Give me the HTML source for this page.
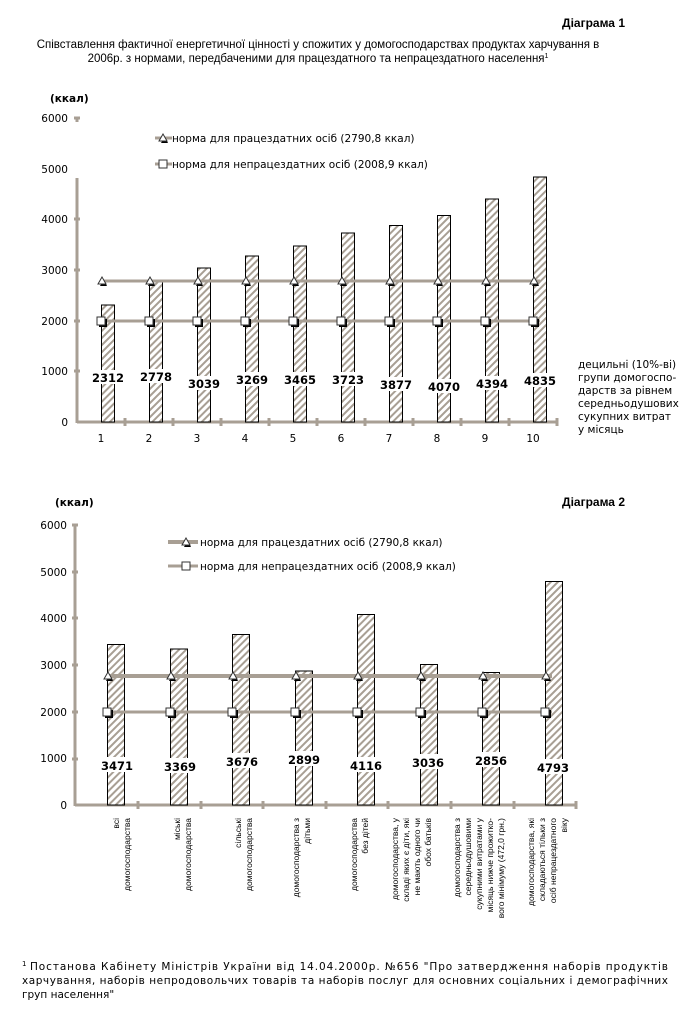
<!DOCTYPE html>
<html><head><meta charset="utf-8"><style>
html,body{margin:0;padding:0;background:#fff;}
svg{display:block;font-family:"DejaVu Sans","Liberation Sans",sans-serif;}
</style></head><body>
<svg width="689" height="1031" viewBox="0 0 689 1031" xmlns="http://www.w3.org/2000/svg">
<defs>
<pattern id="h" width="5" height="5" patternUnits="userSpaceOnUse" patternTransform="rotate(45)">
<rect width="5" height="5" fill="#fff"/><rect width="2" height="5" fill="#a89f94"/>
</pattern>
<g id="tri"><polygon points="2,2 9,2 5.5,-4" fill="#000"/><polygon points="0,0 8,0 4,-7" fill="#fff" stroke="#333" stroke-width="1"/></g>
<g id="sq"><rect x="-2" y="-2" width="8" height="8" fill="#000"/><rect x="-4" y="-4" width="8" height="8" fill="#fff" stroke="#333" stroke-width="1"/></g>
</defs>
<g font-family="Liberation Sans, sans-serif">
<text x="625" y="27" font-size="12" font-weight="bold" text-anchor="end">Діаграма 1</text>
<text x="318" y="48" font-size="11.5" text-anchor="middle">Співставлення фактичної енергетичної цінності у спожитих у домогосподарствах продуктах харчування в</text>
<text x="318" y="62" font-size="11.5" text-anchor="middle">2006р. з нормами, передбаченими для працездатного та непрацездатного населення<tspan font-size="7" dy="-4">1</tspan></text>
<text x="625" y="506" font-size="12" font-weight="bold" text-anchor="end">Діаграма 2</text>
</g>

<!-- CHART 1 -->
<g font-size="10.5">
<text x="50" y="102" font-weight="bold">(ккал)</text>
<text x="68" y="122" text-anchor="end">6000</text>
<text x="68" y="173" text-anchor="end">5000</text>
<text x="68" y="223" text-anchor="end">4000</text>
<text x="68" y="274" text-anchor="end">3000</text>
<text x="68" y="325" text-anchor="end">2000</text>
<text x="68" y="375" text-anchor="end">1000</text>
<text x="68" y="426" text-anchor="end">0</text>
</g>
<g stroke="#a89f94" stroke-width="3">
<line x1="77" y1="178" x2="77" y2="423"/>
<line x1="74" y1="118" x2="80" y2="118"/><line x1="77" y1="118" x2="77" y2="122"/>
<line x1="74" y1="219" x2="80" y2="219"/><line x1="74" y1="270" x2="80" y2="270"/><line x1="74" y1="321" x2="80" y2="321"/><line x1="74" y1="371" x2="80" y2="371"/>
<line x1="77" y1="422" x2="557" y2="422"/>
<line x1="125" y1="418" x2="125" y2="426"/><line x1="173" y1="418" x2="173" y2="426"/><line x1="221" y1="418" x2="221" y2="426"/><line x1="269" y1="418" x2="269" y2="426"/><line x1="317" y1="418" x2="317" y2="426"/><line x1="365" y1="418" x2="365" y2="426"/><line x1="413" y1="418" x2="413" y2="426"/><line x1="461" y1="418" x2="461" y2="426"/><line x1="509" y1="418" x2="509" y2="426"/><line x1="557" y1="418" x2="557" y2="426"/>
</g>
<g stroke="#000" stroke-width="1" fill="url(#h)">
<rect x="101.5" y="305" width="13" height="117"/>
<rect x="149.5" y="281" width="13" height="141"/>
<rect x="197.5" y="268" width="13" height="154"/>
<rect x="245.5" y="256" width="13" height="166"/>
<rect x="293.5" y="246" width="13" height="176"/>
<rect x="341.5" y="233" width="13" height="189"/>
<rect x="389.5" y="225.5" width="13" height="196.5"/>
<rect x="437.5" y="215.5" width="13" height="206.5"/>
<rect x="485.5" y="199" width="13" height="223"/>
<rect x="533.5" y="177" width="13" height="245"/>
</g>
<line x1="101" y1="281" x2="540" y2="281" stroke="#a89f94" stroke-width="3"/>
<line x1="101" y1="321" x2="540" y2="321" stroke="#a89f94" stroke-width="3"/>
<g>
<use href="#tri" x="98" y="284"/><use href="#tri" x="146" y="284"/><use href="#tri" x="194" y="284"/><use href="#tri" x="242" y="284"/><use href="#tri" x="290" y="284"/><use href="#tri" x="338" y="284"/><use href="#tri" x="386" y="284"/><use href="#tri" x="434" y="284"/><use href="#tri" x="482" y="284"/><use href="#tri" x="530" y="284"/>
<use href="#sq" x="101" y="321"/><use href="#sq" x="149" y="321"/><use href="#sq" x="197" y="321"/><use href="#sq" x="245" y="321"/><use href="#sq" x="293" y="321"/><use href="#sq" x="341" y="321"/><use href="#sq" x="389" y="321"/><use href="#sq" x="437" y="321"/><use href="#sq" x="485" y="321"/><use href="#sq" x="533" y="321"/>
</g>
<g font-size="11.5" font-weight="bold" text-anchor="middle">
<rect x="88" y="370" width="40" height="14" fill="#fff"/><text x="108" y="382">2312</text>
<rect x="136" y="369" width="40" height="14" fill="#fff"/><text x="156" y="381">2778</text>
<rect x="184" y="376" width="40" height="14" fill="#fff"/><text x="204" y="388">3039</text>
<rect x="232" y="372" width="40" height="14" fill="#fff"/><text x="252" y="384">3269</text>
<rect x="280" y="372" width="40" height="14" fill="#fff"/><text x="300" y="384">3465</text>
<rect x="328" y="372" width="40" height="14" fill="#fff"/><text x="348" y="384">3723</text>
<rect x="376" y="377" width="40" height="14" fill="#fff"/><text x="396" y="389">3877</text>
<rect x="424" y="379" width="40" height="14" fill="#fff"/><text x="444" y="391">4070</text>
<rect x="472" y="376" width="40" height="14" fill="#fff"/><text x="492" y="388">4394</text>
<rect x="520" y="373" width="40" height="14" fill="#fff"/><text x="540" y="385">4835</text>
</g>
<g font-size="10.5" text-anchor="middle">
<text x="101" y="442">1</text><text x="149" y="442">2</text><text x="197" y="442">3</text><text x="245" y="442">4</text><text x="293" y="442">5</text><text x="341" y="442">6</text><text x="389" y="442">7</text><text x="437" y="442">8</text><text x="485" y="442">9</text><text x="533" y="442">10</text>
</g>
<g font-size="10.5">
<text x="578" y="368">децильні (10%-ві)</text>
<text x="578" y="381">групи домогоспо-</text>
<text x="578" y="394">дарств за рівнем</text>
<text x="578" y="407">середньодушових</text>
<text x="578" y="420">сукупних витрат</text>
<text x="578" y="433">у місяць</text>
</g>
<line x1="155" y1="138" x2="172" y2="138" stroke="#a89f94" stroke-width="3"/>
<use href="#tri" x="159" y="141"/>
<text x="172" y="142" font-size="10.5">норма для працездатних осіб (2790,8 ккал)</text>
<line x1="155" y1="164" x2="172" y2="164" stroke="#a89f94" stroke-width="3"/>
<rect x="159" y="160" width="8" height="8" fill="#fff" stroke="#333"/>
<text x="172" y="168" font-size="10.5">норма для непрацездатних осіб (2008,9 ккал)</text>

<!-- CHART 2 -->
<g font-size="10.5">
<text x="55" y="506" font-weight="bold">(ккал)</text>
<text x="67" y="529" text-anchor="end">6000</text>
<text x="67" y="576" text-anchor="end">5000</text>
<text x="67" y="622" text-anchor="end">4000</text>
<text x="67" y="669" text-anchor="end">3000</text>
<text x="67" y="716" text-anchor="end">2000</text>
<text x="67" y="762" text-anchor="end">1000</text>
<text x="67" y="809" text-anchor="end">0</text>
</g>
<g stroke="#a89f94" stroke-width="3">
<line x1="75" y1="525" x2="75" y2="806"/>
<line x1="72" y1="525" x2="78" y2="525"/><line x1="72" y1="572" x2="78" y2="572"/><line x1="72" y1="618" x2="78" y2="618"/><line x1="72" y1="665" x2="78" y2="665"/><line x1="72" y1="712" x2="78" y2="712"/><line x1="72" y1="759" x2="78" y2="759"/>
<line x1="75" y1="805" x2="577" y2="805"/>
<line x1="138" y1="801" x2="138" y2="809"/><line x1="201" y1="801" x2="201" y2="809"/><line x1="263" y1="801" x2="263" y2="809"/><line x1="326" y1="801" x2="326" y2="809"/><line x1="388" y1="801" x2="388" y2="809"/><line x1="451" y1="801" x2="451" y2="809"/><line x1="514" y1="801" x2="514" y2="809"/><line x1="576" y1="801" x2="576" y2="809"/>
</g>
<g stroke="#000" stroke-width="1" fill="url(#h)">
<rect x="107.5" y="644.5" width="17" height="160.5"/>
<rect x="170.5" y="649" width="17" height="156"/>
<rect x="232.5" y="634.5" width="17" height="170.5"/>
<rect x="295.5" y="671" width="17" height="134"/>
<rect x="357.5" y="614.5" width="17" height="190.5"/>
<rect x="420.5" y="664.5" width="17" height="140.5"/>
<rect x="482.5" y="672.5" width="17" height="132.5"/>
<rect x="545.5" y="581.5" width="17" height="223.5"/>
</g>
<line x1="107" y1="676" x2="552" y2="676" stroke="#a89f94" stroke-width="4"/>
<line x1="107" y1="712" x2="552" y2="712" stroke="#a89f94" stroke-width="3"/>
<g>
<use href="#tri" x="104" y="679"/><use href="#tri" x="167" y="679"/><use href="#tri" x="229" y="679"/><use href="#tri" x="292" y="679"/><use href="#tri" x="354" y="679"/><use href="#tri" x="417" y="679"/><use href="#tri" x="479" y="679"/><use href="#tri" x="542" y="679"/>
<use href="#sq" x="107" y="712"/><use href="#sq" x="170" y="712"/><use href="#sq" x="232" y="712"/><use href="#sq" x="295" y="712"/><use href="#sq" x="357" y="712"/><use href="#sq" x="420" y="712"/><use href="#sq" x="482" y="712"/><use href="#sq" x="545" y="712"/>
</g>
<g font-size="11.5" font-weight="bold" text-anchor="middle">
<rect x="97" y="757" width="40" height="15" fill="#fff"/><text x="117" y="770">3471</text>
<rect x="160" y="758" width="40" height="15" fill="#fff"/><text x="180" y="771">3369</text>
<rect x="222" y="753" width="40" height="15" fill="#fff"/><text x="242" y="766">3676</text>
<rect x="284" y="751" width="40" height="15" fill="#fff"/><text x="304" y="764">2899</text>
<rect x="346" y="757" width="40" height="15" fill="#fff"/><text x="366" y="770">4116</text>
<rect x="408" y="754" width="40" height="15" fill="#fff"/><text x="428" y="767">3036</text>
<rect x="471" y="752" width="40" height="15" fill="#fff"/><text x="491" y="765">2856</text>
<rect x="533" y="759" width="40" height="15" fill="#fff"/><text x="553" y="772">4793</text>
</g>
<line x1="168" y1="542" x2="198" y2="542" stroke="#a89f94" stroke-width="4"/>
<use href="#tri" x="182" y="545"/>
<text x="200" y="546" font-size="10.5">норма для працездатних осіб (2790,8 ккал)</text>
<line x1="168" y1="566" x2="198" y2="566" stroke="#a89f94" stroke-width="3"/>
<rect x="182" y="562" width="8" height="8" fill="#fff" stroke="#333"/>
<text x="200" y="570" font-size="10.5">норма для непрацездатних осіб (2008,9 ккал)</text>

<g font-size="8.5" text-anchor="end" font-family="Liberation Sans, sans-serif">
<text transform="translate(119,818) rotate(-90)">всі</text>
<text transform="translate(130,818) rotate(-90)">домогосподарства</text>
<text transform="translate(180,818) rotate(-90)">міські</text>
<text transform="translate(191,818) rotate(-90)">домогосподарства</text>
<text transform="translate(241,818) rotate(-90)">сільські</text>
<text transform="translate(252,818) rotate(-90)">домогосподарства</text>
<text transform="translate(299,818) rotate(-90)">домогосподарства з</text>
<text transform="translate(310,818) rotate(-90)">дітьми</text>
<text transform="translate(357,818) rotate(-90)">домогосподарства</text>
<text transform="translate(368,818) rotate(-90)">без дітей</text>
<text transform="translate(398,818) rotate(-90)">домогосподарства, у</text>
<text transform="translate(409,818) rotate(-90)">складі яких є діти, які</text>
<text transform="translate(420,818) rotate(-90)">не мають одного чи</text>
<text transform="translate(431,818) rotate(-90)">обох батьків</text>
<text transform="translate(460,818) rotate(-90)">домогосподарства з</text>
<text transform="translate(471,818) rotate(-90)">середньодушовими</text>
<text transform="translate(482,818) rotate(-90)">сукупними витратами у</text>
<text transform="translate(493,818) rotate(-90)">місяць нижче прожитко-</text>
<text transform="translate(504,818) rotate(-90)">вого мінімуму (472,0 грн.)</text>
<text transform="translate(534,818) rotate(-90)">домогосподарства, які</text>
<text transform="translate(545,818) rotate(-90)">складаються тільки з</text>
<text transform="translate(556,818) rotate(-90)">осіб непрацездатного</text>
<text transform="translate(567,818) rotate(-90)">віку</text>
</g>

<g font-size="10.5">
<text x="22" y="966" font-size="7">1</text>
<text x="30" y="970" textLength="638" lengthAdjust="spacing">Постанова Кабінету Міністрів України від 14.04.2000р. №656 "Про затвердження наборів продуктів</text>
<text x="22" y="984" textLength="646" lengthAdjust="spacing">харчування, наборів непродовольчих товарів та наборів послуг для основних соціальних і демографічних</text>
<text x="22" y="998">груп населення"</text>
</g>
</svg>
</body></html>
